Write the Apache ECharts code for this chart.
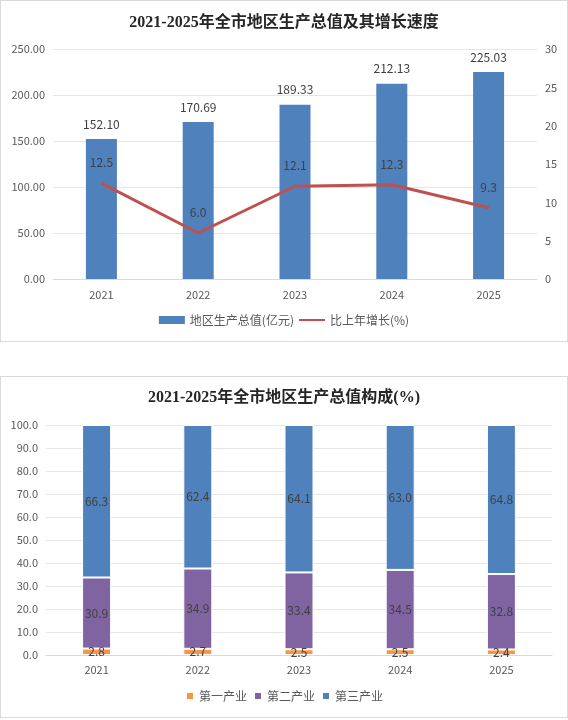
<!DOCTYPE html>
<html>
<head>
<meta charset="utf-8">
<script src="https://cdn.jsdelivr.net/npm/echarts@6/dist/echarts.min.js"></script>
<style>
  html, body { margin: 0; padding: 0; background: #fff; }
  .box { position: absolute; left: 0; width: 566px; height: 340px; border: 1px solid #d9d9d9; }
  #c1 { top: 0; }
  #c2 { top: 376px; }
</style>
</head>
<body>
<div id="c1" class="box"></div>
<div id="c2" class="box"></div>
<script>
var years = ['2021', '2022', '2023', '2024', '2025'];
// 地区生产总值(亿元)
var gdp = [152.10, 170.69, 189.33, 212.13, 225.03];
// 比上年增长(%)
var growth = [12.5, 6.0, 12.1, 12.3, 9.3];
// 构成(%)
var primary = [2.8, 2.7, 2.5, 2.5, 2.4];
var secondary = [30.9, 34.9, 33.4, 34.5, 32.8];
var tertiary = [66.3, 62.4, 64.1, 63.0, 64.8];

var font = '"Microsoft YaHei", "Noto Sans CJK SC", sans-serif';
var titleFont = '"Liberation Serif", "Noto Sans CJK SC", serif';
var axisColor = '#595959';

var chart1 = echarts.init(document.getElementById('c1'));
chart1.setOption({
    animation: false,
    textStyle: { fontFamily: font },
    title: {
        text: '2021-2025年全市地区生产总值及其增长速度',
        left: 'center',
        top: 9,
        textStyle: { fontFamily: titleFont, fontSize: 16, fontWeight: 'bold', color: '#262626' }
    },
    legend: {
        bottom: 10,
        left: 'center',
        itemGap: 4,
        itemWidth: 26,
        itemHeight: 8,
        textStyle: { color: axisColor, fontSize: 12, fontFamily: font },
        data: [
            { name: '地区生产总值(亿元)', icon: 'rect' },
            { name: '比上年增长(%)', itemStyle: { opacity: 0 } }
        ]
    },
    grid: { left: 52, right: 30, top: 48, bottom: 62 },
    xAxis: {
        type: 'category',
        data: years,
        axisTick: { show: false },
        axisLine: { lineStyle: { color: '#d9d9d9' } },
        axisLabel: { color: axisColor, fontSize: 11, margin: 10 }
    },
    yAxis: [
        {
            type: 'value', min: 0, max: 250, interval: 50,
            axisLabel: { color: axisColor, fontSize: 11, formatter: function (v) { return v.toFixed(2); } },
            splitLine: { lineStyle: { color: '#e6e6e6' } }
        },
        {
            type: 'value', min: 0, max: 30, interval: 5,
            axisLabel: { color: axisColor, fontSize: 11 },
            splitLine: { show: false }
        }
    ],
    series: [
        {
            name: '地区生产总值(亿元)',
            type: 'bar',
            barWidth: 31,
            data: gdp,
            itemStyle: { color: '#4F81BD' },
            label: {
                show: true, position: 'top', distance: 9, color: '#404040', fontSize: 12,
                formatter: function (p) { return p.value.toFixed(2); }
            }
        },
        {
            name: '比上年增长(%)',
            type: 'line',
            yAxisIndex: 1,
            data: growth,
            symbol: 'circle',
            symbolSize: 1,
            lineStyle: { color: '#C0504D', width: 3 },
            itemStyle: { color: '#C0504D' },
            label: {
                show: true, position: 'top', distance: 14, color: '#404040', fontSize: 12,
                formatter: function (p) { return p.value.toFixed(1); }
            }
        }
    ]
});

var chart2 = echarts.init(document.getElementById('c2'));
var segLabel = {
    show: true, position: 'inside', color: '#404040', fontSize: 12,
    formatter: function (p) { return p.value.toFixed(1); }
};
chart2.setOption({
    animation: false,
    textStyle: { fontFamily: font },
    title: {
        text: '2021-2025年全市地区生产总值构成(%)',
        left: 'center',
        top: 8,
        textStyle: { fontFamily: titleFont, fontSize: 16, fontWeight: 'bold', color: '#262626' }
    },
    legend: {
        bottom: 10,
        left: 'center',
        itemGap: 6,
        itemWidth: 8,
        itemHeight: 8,
        icon: 'rect',
        textStyle: { color: axisColor, fontSize: 12, fontFamily: font },
        data: ['第一产业', '第二产业', '第三产业']
    },
    grid: { left: 45, right: 15, top: 48, bottom: 62 },
    xAxis: {
        type: 'category',
        data: years,
        axisTick: { show: false },
        axisLine: { lineStyle: { color: '#d9d9d9' } },
        axisLabel: { color: axisColor, fontSize: 11, margin: 9 }
    },
    yAxis: {
        type: 'value', min: 0, max: 100, interval: 10,
        axisLabel: { color: axisColor, fontSize: 11, formatter: function (v) { return v.toFixed(1); } },
        splitLine: { lineStyle: { color: '#e6e6e6' } }
    },
    series: [
        {
            name: '第一产业', type: 'bar', stack: 'gdp', barWidth: 29, data: primary,
            itemStyle: { color: '#F79646', borderColor: '#fff', borderWidth: 1 },
            label: segLabel
        },
        {
            name: '第二产业', type: 'bar', stack: 'gdp', data: secondary,
            itemStyle: { color: '#8064A2', borderColor: '#fff', borderWidth: 1 },
            label: segLabel
        },
        {
            name: '第三产业', type: 'bar', stack: 'gdp', data: tertiary,
            itemStyle: { color: '#4F81BD', borderColor: '#fff', borderWidth: 1 },
            label: segLabel
        }
    ]
});
</script>
</body>
</html>
